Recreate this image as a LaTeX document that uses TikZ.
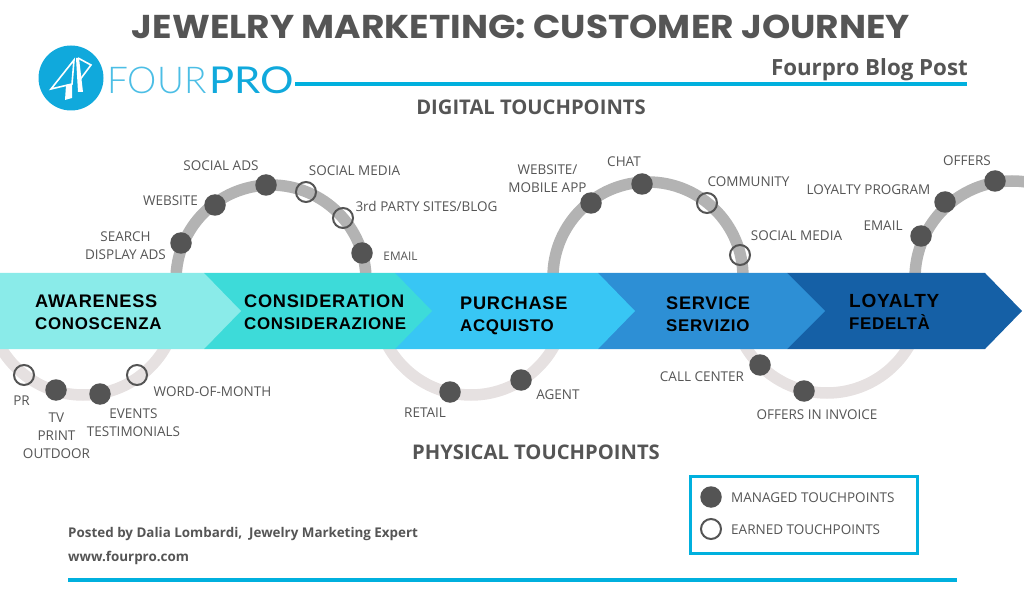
\documentclass[tikz,border=0pt]{standalone}
\usepackage{fontspec}
\setmainfont{Open Sans}
\newfontfamily\stagefont[LetterSpace=4]{Liberation Sans}
\newfontfamily\logofont{Lato Light}
\newfontfamily\logoprofont{Lato}
\newfontfamily\titlefont{Poppins}
\newcommand{\stagetop}[1]{{\fontsize{18.2}{22}\selectfont #1}}
\usetikzlibrary{positioning}
\definecolor{inkgrey}{HTML}{555555}
\definecolor{dotgrey}{HTML}{545454}
\definecolor{upperband}{HTML}{B3B3B3}
\definecolor{lowerband}{HTML}{E6E1E1}
\definecolor{fourblue}{HTML}{00B0DE}
\definecolor{logoblue}{HTML}{10A9DC}
\definecolor{awarefill}{HTML}{8AEBE9}
\definecolor{considerfill}{HTML}{3DDBD9}
\definecolor{purchasefill}{HTML}{38C6F4}
\definecolor{servicefill}{HTML}{2D8FD5}
\definecolor{loyalfill}{HTML}{1560A6}

\begin{document}
\begin{tikzpicture}[x=1pt,y=-1pt,
managed/.style={circle,fill=dotgrey,minimum size=21.5pt,inner sep=0pt},
earned/.style={circle,draw=dotgrey,line width=2pt,minimum size=20pt,inner sep=0pt},
tp/.style={text=inkgrey,align=center,inner sep=0pt,yshift=-1pt,font=\fontsize{13.5}{18}\selectfont},
stage/.style={text=black,align=left,anchor=west,inner sep=0pt,font=\fontsize{16.9}{22}\selectfont\stagefont\bfseries},
heading/.style={text=inkgrey,inner sep=0pt,font=\fontsize{20.2}{22}\selectfont\bfseries},
footer/.style={text=inkgrey,anchor=west,inner sep=0pt,font=\fontsize{13.4}{15}\selectfont\bfseries},
upperarc/.style={draw=upperband,line width=11.5pt},
lowerarc/.style={draw=lowerband,line width=11.5pt},
rulebar/.style={draw=fourblue,line width=4pt}]
\useasboundingbox (0,0) rectangle (1024,593);

% bands behind the arrows
\clip (0,0) rectangle (1024,593);
\draw[lowerarc] (83,300) ++(0:95) arc (0:180:95);
\draw[lowerarc] (471,300) ++(0:95) arc (0:180:95);
\draw[lowerarc] (827,298) ++(0:95) arc (0:180:95);
\draw[upperarc] (271,280) ++(180:95) arc (180:360:95);
\draw[upperarc] (648,277) ++(180:95) arc (180:360:95);
\draw[upperarc] (1012,278) ++(180:97) arc (180:300:97);

% arrows, right one first
\fill[loyalfill] (787,273) -- (985,273) -- (1022,311) -- (985,349) -- (787,349) -- cycle;
\fill[servicefill] (598,273) -- (787,273) -- (825,311) -- (787,349) -- (598,349) -- cycle;
\fill[purchasefill] (395,273) -- (598,273) -- (635,311) -- (598,349) -- (395,349) -- cycle;
\fill[considerfill] (204,273) -- (395,273) -- (432,311) -- (395,349) -- (204,349) -- cycle;
\fill[awarefill] (0,273) -- (204,273) -- (241,311) -- (204,349) -- (0,349) -- cycle;

\node[stage] (awareness) at (35,312) {\stagetop{AWARENESS}\\CONOSCENZA};
\node[stage] (consideration) at (244,312) {\stagetop{CONSIDERATION}\\CONSIDERAZIONE};
\node[stage] (purchase) at (460,316) {\stagetop{PURCHASE}\\ACQUISTO};
\node[stage] (service) at (666,314) {\stagetop{SERVICE}\\SERVIZIO};
\node[stage] (loyalty) at (849,312) {{\fontsize{19}{22}\selectfont LOYALTY}\\FEDELTÀ};

% touchpoints
\foreach \name/\x/\y in {search/181/243,website/215/205,socialads/266/185,emaila/362/253,
  mobile/591/203,chat/642/184,emailb/921/236,program/945/202,offers/995/181,
  tv/56/390,events/100/394,retail/450/392,agent/521/380,callcenter/760/365,invoice/804/391}
  \node[managed] (\name) at (\x,\y) {};
\foreach \name/\x/\y in {socialmedia/306/192,thirdparty/343/218,community/707/203,socialb/740/255,
  pr/24/375,wordmonth/137/375}
  \node[earned] (\name) at (\x,\y) {};

\node[tp] (tsearch) at (125.5,245) {SEARCH\\DISPLAY ADS};
\node[tp] (twebsite) at (170.5,200) {WEBSITE};
\node[tp] (tsocialads) at (221,165) {SOCIAL ADS};
\node[tp] (tsocialmedia) at (354.5,170) {SOCIAL MEDIA};
\node[tp] (tthird) at (426.5,205) {3rd PARTY SITES/BLOG};
\node[tp,font=\fontsize{11.8}{18}\selectfont] (temaila) at (400.5,255) {EMAIL};
\node[tp] (tmobile) at (547.5,178) {WEBSITE/\\MOBILE APP};
\node[tp] (tchat) at (624,161) {CHAT};
\node[tp] (tcommunity) at (748.5,181) {COMMUNITY};
\node[tp] (tsocialb) at (796.5,235) {SOCIAL MEDIA};
\node[tp] (temailb) at (883,225) {EMAIL};
\node[tp] (tprogram) at (868.5,189) {LOYALTY PROGRAM};
\node[tp] (toffers) at (967,160) {OFFERS};
\node[tp] (tpr) at (21.5,400) {PR};
\node[tp] (ttv) at (56.5,435) {TV\\PRINT\\OUTDOOR};
\node[tp] (tevents) at (133.5,422) {EVENTS\\TESTIMONIALS};
\node[tp] (tword) at (212.5,391) {WORD-OF-MONTH};
\node[tp] (tretail) at (425,412) {RETAIL};
\node[tp] (tagent) at (558,394) {AGENT};
\node[tp] (tcall) at (702,376) {CALL CENTER};
\node[tp] (tinvoice) at (817,414) {OFFERS IN INVOICE};

% header
\node[text=inkgrey,inner sep=0pt,xscale=1.09,font=\fontsize{33}{36}\selectfont\titlefont\bfseries] (title) at (521,26.5) {JEWELRY MARKETING: CUSTOMER JOURNEY};
\node[text=inkgrey,anchor=east,inner sep=0pt,font=\fontsize{22.3}{24}\selectfont\bfseries] (blogpost) at (968,70) {Fourpro Blog Post};
\node[heading] (digital) at (531,107) {DIGITAL TOUCHPOINTS};
\node[heading] (physical) at (536,452) {PHYSICAL TOUCHPOINTS};
\coordinate (headstart) at (295,84);
\coordinate (headend) at (967,84);
\draw[rulebar] (headstart) -- (headend);

% logo
\node[circle,fill=logoblue,minimum size=65pt,inner sep=0pt] (logodisc) at (71,78) {};
\draw[white,line width=1.6pt,line join=miter]
  (51,89) -- (74,60) -- (72,84) -- cycle
  (78,58) -- (91,65) -- (79,81);
\fill[white] (66,85) -- (65,100) -- (72,98) -- (72,84) -- cycle;
\fill[white] (76,58) -- (79,58) -- (83,92) -- (78,92) -- cycle;
\node[anchor=west,inner sep=0pt,text=logoblue!75,font=\fontsize{37}{40}\selectfont\logofont] (logofour) at (107,80) {FOUR};
\node[anchor=west,inner sep=0pt,xscale=1.13,text=logoblue,font=\fontsize{37}{40}\selectfont\logoprofont] (logopro) at (209,80) {PRO};

% footer
\node[footer] (posted) at (68,534) {Posted by Dalia Lombardi,\ \ Jewelry Marketing Expert};
\node[footer] (site) at (68,558) {www.fourpro.com};
\coordinate (footstart) at (68,580);
\coordinate (footend) at (957,580);
\draw[rulebar,line width=4.5pt] (footstart) -- (footend);

% legend
\node[draw=fourblue,line width=3pt,minimum width=227pt,minimum height=77pt,inner sep=0pt] (legend) at (804,515) {};
\node[managed] (keymanaged) at (711,497) {};
\node[earned] (keyearned) at (711,529) {};
\node[tp,anchor=west] (tkeymanaged) at (731,497) {MANAGED TOUCHPOINTS};
\node[tp,anchor=west] (tkeyearned) at (731,529) {EARNED TOUCHPOINTS};
\end{tikzpicture}
\end{document}
